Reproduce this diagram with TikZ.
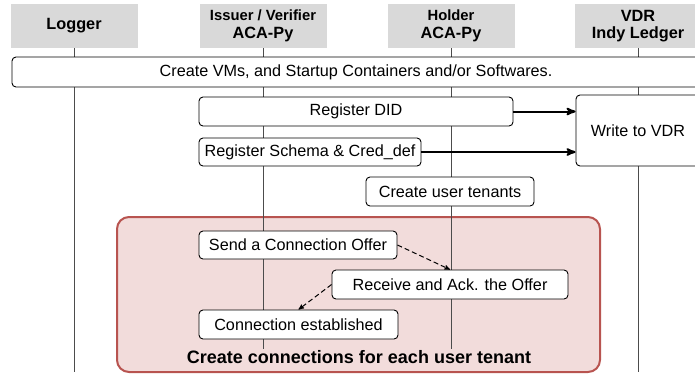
\documentclass[tikz,border=0pt]{standalone}
\usepackage{fontspec}
\setmainfont{Liberation Sans}
\usepackage{xcolor}
\usetikzlibrary{arrows,positioning}

\definecolor{headgray}{HTML}{D9D9D9}
\definecolor{tenantred}{HTML}{B85450}
\definecolor{tenantfill}{HTML}{F2DCDB}
\newcommand{\smallhead}[1]{{\fontsize{14.8}{16}\selectfont #1}}

\begin{document}
\begin{tikzpicture}[x=1pt, y=-1pt, >=stealth',
		head/.style = {fill=headgray, minimum width=127pt, minimum height=44pt, inner sep=0pt, align=center, font=\bfseries\fontsize{16.3}{17.5}\selectfont},
		act/.style = {draw, line width=0.9pt, rounded corners=4pt, fill=white, inner sep=0pt, minimum height=29pt, font=\fontsize{16.2}{18}\selectfont},
		life/.style = {draw=black!70, line width=1pt}
		]
		\useasboundingbox (0,0) rectangle (695,376);
		
		% lanes
		\node (logger) [head] at (74,26)   {Logger};
		\node (issuer) [head] at (263,26)  {\smallhead{Issuer / Verifier}\\ACA-Py};
		\node (holder) [head] at (451,26)  {\smallhead{Holder}\\ACA-Py};
		\node (vdr)    [head] at (638,26)  {VDR\\Indy Ledger};
		
		\node (tenantbox) [draw=tenantred, fill=tenantfill, line width=2pt, rounded corners=12pt, minimum width=483pt, minimum height=155pt] at (358.5,294.5) {};
		
		\coordinate (loggerend) at (74,372);
		\coordinate (issuerend) at (263,349);
		\coordinate (holderend) at (451,349);
		\coordinate (vdrend)    at (638,372);
		\draw [life] (logger) -- (loggerend);
		\draw [life] (issuer) -- (issuerend);
		\draw [life] (holder) -- (holderend);
		\draw [life] (vdr) -- (vdrend);
		
		% steps
		\node (startup)     [act, minimum width=688pt, minimum height=30pt] at (356,72)     {Create VMs, and Startup Containers and/or Softwares.};
		\node (regdid)      [act, minimum width=314pt]                      at (356,111.5)  {Register DID};
		\node (regschema)   [act, minimum width=222pt, minimum height=28pt] at (310,152)    {Register Schema \& Cred\_def};
		\node (writevdr)    [act, minimum width=124pt, minimum height=71pt] at (638,130.5)  {Write to VDR};
		\node (tenants)     [act, minimum width=168pt]                      at (450,191.5)  {Create user tenants};
		\node (offer)       [act, minimum width=198pt, minimum height=28pt] at (298,245)    {Send a Connection Offer};
		\node (receive)     [act, minimum width=236pt]                      at (450,284.5)  {Receive and Ack. the Offer};
		\node (established) [act, minimum width=199pt]                      at (298.5,324.5) {Connection established};
		\node (tenanttitle) [font=\bfseries\fontsize{18}{20}\selectfont]   at (359,357)    {Create connections for each user tenant};
		
		\path[->, line width=2pt]
		(regdid.east)    edge (regdid.east -| writevdr.west)
		(regschema.east) edge (regschema.east -| writevdr.west);
		
		\path[->, dash pattern=on 5pt off 3pt, line width=1pt]
		(offer.east)   edge (receive.north)
		(receive.west) edge (established.north);
		
	\end{tikzpicture}
\end{document}
